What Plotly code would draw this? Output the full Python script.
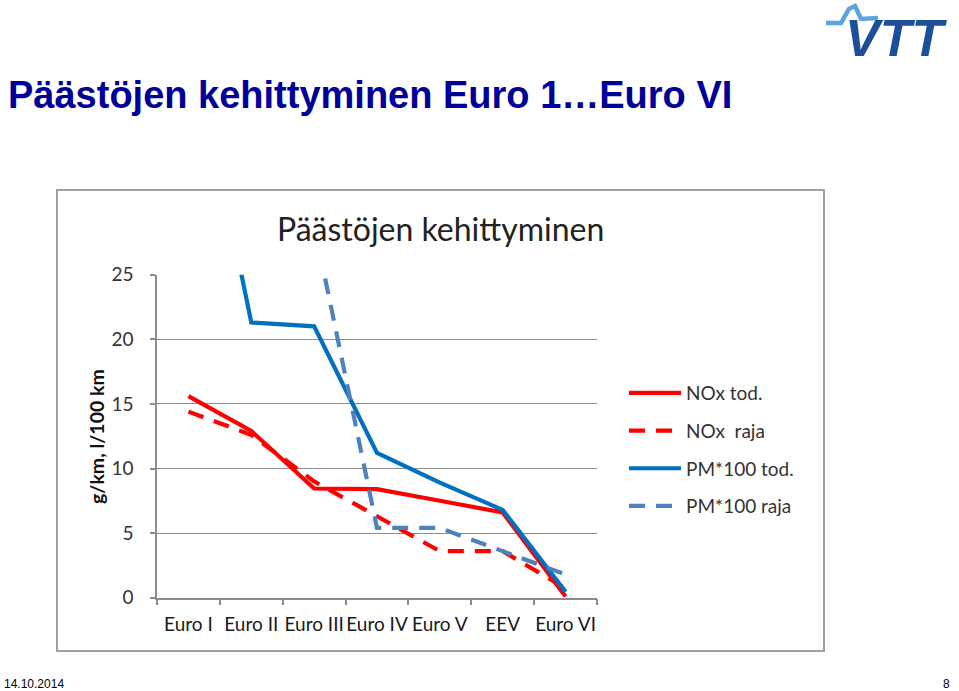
import plotly.graph_objects as go

W, H = 959, 691

categories = ["Euro I", "Euro II", "Euro III", "Euro IV", "Euro V", "EEV", "Euro VI"]
nox_tod = [15.6, 12.9, 8.45, 8.4, 7.5, 6.6, 0.1]
nox_raja = [14.4, 12.6, 9.0, 6.3, 3.6, 3.6, 0.72]
pm_tod = [45.0, 21.3, 21.0, 11.2, 8.9, 6.8, 0.45]
pm_raja = [None, None, 28.8, 5.4, 5.4, 3.6, 1.8]

series_names = ["NOx tod.", "NOx  raja", "PM*100 tod.", "PM*100 raja"]
series_values = [nox_tod, nox_raja, pm_tod, pm_raja]
series_colors = ["#FF0000", "#FF0000", "#0070C0", "#4F81BD"]
series_dash = ["solid", "16px,11px", "solid", "16px,11px"]

y_ticks = [0, 5, 10, 15, 20, 25]


def px(x):
    return x / W


def py(y):
    return 1 - y / H


fig = go.Figure()
for i, (name, vals, col, dash) in enumerate(zip(series_names, series_values, series_colors, series_dash)):
    fig.add_trace(go.Scatter(
        x=categories, y=vals, name=name, mode="lines",
        line=dict(color=col, width=4.2, dash=dash),
        legendgroup=str(i), connectgaps=False,
    ))

axis_color = "#8C8C8C"
FONT = "Lato, Carlito, sans-serif"
fig.update_layout(
    width=W, height=H,
    margin=dict(l=0, r=0, t=0, b=0, autoexpand=False),
    paper_bgcolor="white", plot_bgcolor="white",
    showlegend=True,
    legend=dict(
        x=px(624), y=py(374), xanchor="left", yanchor="top",
        font=dict(family=FONT, size=19, color="#333333"),
        traceorder="grouped", tracegroupgap=10, itemwidth=52,
        bgcolor="rgba(0,0,0,0)",
    ),
    xaxis=dict(
        domain=[px(157), px(597)], automargin=False,
        type="category", range=[-0.5, 6.5],
        showline=True, linecolor=axis_color, linewidth=1.5,
        ticks="outside", tickson="boundaries", ticklen=6, tickcolor=axis_color, tickwidth=1.5,
        showgrid=False, zeroline=False, tickangle=0,
        tickfont=dict(family=FONT, size=19, color="#1a1a1a"),
        ticklabelstandoff=9,
    ),
    yaxis=dict(
        domain=[py(597.7), py(274.7)], automargin=False,
        range=[0, 25], tickvals=y_ticks,
        showline=True, linecolor=axis_color, linewidth=1.5,
        ticks="outside", ticklen=5, tickcolor=axis_color, tickwidth=1.5,
        showgrid=True, gridcolor=axis_color, gridwidth=1.3,
        zeroline=False,
        tickfont=dict(family=FONT, size=19, color="#333333"),
        ticklabelstandoff=13,
    ),
)

# chart frame
fig.add_shape(type="rect", xref="paper", yref="paper",
              x0=px(57), x1=px(824), y0=py(651), y1=py(190),
              line=dict(color="#A0A0A0", width=2), fillcolor="rgba(0,0,0,0)", layer="below")

# VTT logo (approximate)
fig.add_shape(type="path", xref="paper", yref="paper",
              path=(f"M {px(826)},{py(23)} L {px(841)},{py(23)} L {px(849)},{py(9)} "
                    f"L {px(855)},{py(6)} L {px(861)},{py(19)} L {px(878)},{py(18)}"),
              line=dict(color="#5BA4DC", width=4.5))

annotations = [
    dict(text="<b>Päästöjen kehittyminen Euro 1…Euro VI</b>", x=px(6), y=py(95),
         xanchor="left", yanchor="middle",
         font=dict(family="Liberation Sans, Arial, sans-serif", size=38, color="#000099")),
    dict(text="Päästöjen kehittyminen", x=px(440), y=py(228),
         xanchor="center", yanchor="middle",
         font=dict(family=FONT, size=32, color="#222222")),
    dict(text="<b>g/km, l/100 km</b>", x=px(97), y=py(437), textangle=-90,
         xanchor="center", yanchor="middle",
         font=dict(family=FONT, size=19.5, color="#111111")),
    dict(text="<b><i>VTT</i></b>", x=px(896), y=py(38),
         xanchor="center", yanchor="middle",
         font=dict(family="Liberation Sans, Arial, sans-serif", size=52, color="#1B4F9C")),
    dict(text="14.10.2014", x=px(2), y=py(684),
         xanchor="left", yanchor="middle",
         font=dict(family="Liberation Sans Narrow, Liberation Sans, sans-serif", size=12, color="#000000")),
    dict(text="8", x=px(952), y=py(684),
         xanchor="right", yanchor="middle",
         font=dict(family="Liberation Sans Narrow, Liberation Sans, sans-serif", size=12, color="#000000")),
]
for a in annotations:
    a.update(xref="paper", yref="paper", showarrow=False)
    fig.add_annotation(**a)

fig.write_html("out.html")
